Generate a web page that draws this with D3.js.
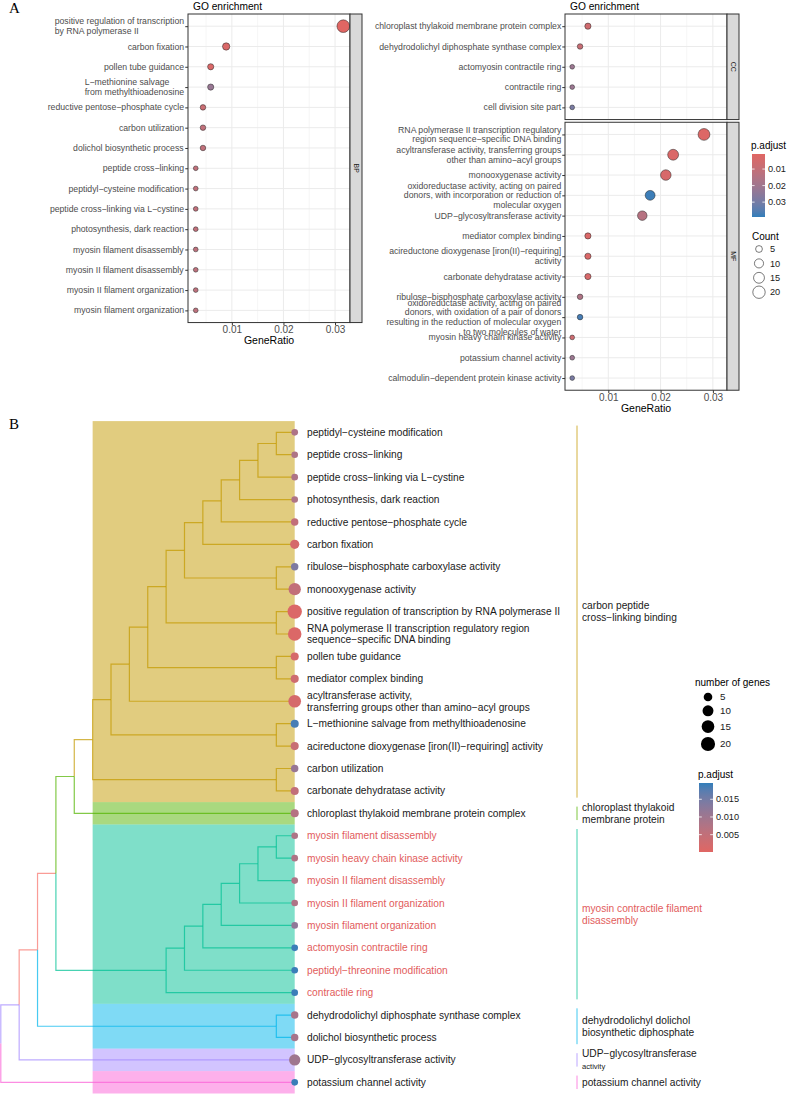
<!DOCTYPE html>
<html>
<head>
<meta charset="utf-8">
<script src="https://cdn.jsdelivr.net/npm/d3@7/dist/d3.min.js"></script>
<style>
  body { margin: 0; background: #fff; }
  svg { display: block; font-family: "Liberation Sans", Arial, sans-serif; }
</style>
</head>
<body>
<svg id="fig"></svg>
<script>
// ---------- panel A : GO enrichment dot plots ----------
const bpTerms = [
  "positive regulation of transcription\nby RNA polymerase II",
  "carbon fixation",
  "pollen tube guidance",
  "L−methionine salvage\nfrom methylthioadenosine",
  "reductive pentose−phosphate cycle",
  "carbon utilization",
  "dolichol biosynthetic process",
  "peptide cross−linking",
  "peptidyl−cysteine modification",
  "peptide cross−linking via L−cystine",
  "photosynthesis, dark reaction",
  "myosin filament disassembly",
  "myosin II filament disassembly",
  "myosin II filament organization",
  "myosin filament organization"
];
const bpRatio = [0.0316, 0.0089, 0.0059, 0.0059, 0.0044, 0.0044, 0.0044, 0.0030, 0.0030, 0.0030, 0.0030, 0.0030, 0.0030, 0.0030, 0.0030];
const bpCount = [21, 6, 4, 4, 3, 3, 3, 2, 2, 2, 2, 2, 2, 2, 2];
const bpPadj = [0.001, 0.003, 0.003, 0.022, 0.008, 0.011, 0.011, 0.011, 0.011, 0.011, 0.011, 0.012, 0.012, 0.012, 0.012];

const ccTerms = [
  "chloroplast thylakoid membrane protein complex",
  "dehydrodolichyl diphosphate synthase complex",
  "actomyosin contractile ring",
  "contractile ring",
  "cell division site part"
];
const ccRatio = [0.0061, 0.0046, 0.0031, 0.0031, 0.0031];
const ccCount = [4, 3, 2, 2, 2];
const ccPadj = [0.006, 0.009, 0.021, 0.021, 0.029];

const mfTerms = [
  "RNA polymerase II transcription regulatory\nregion sequence−specific DNA binding",
  "acyltransferase activity, transferring groups\nother than amino−acyl groups",
  "monooxygenase activity",
  "oxidoreductase activity, acting on paired\ndonors, with incorporation or reduction of\nmolecular oxygen",
  "UDP−glycosyltransferase activity",
  "mediator complex binding",
  "acireductone dioxygenase [iron(II)−requiring]\nactivity",
  "carbonate dehydratase activity",
  "ribulose−bisphosphate carboxylase activity",
  "oxidoreductase activity, acting on paired\ndonors, with oxidation of a pair of donors\nresulting in the reduction of molecular oxygen\nto two molecules of water",
  "myosin heavy chain kinase activity",
  "potassium channel activity",
  "calmodulin−dependent protein kinase activity"
];
const mfRatio = [0.0283, 0.0224, 0.0210, 0.0180, 0.0165, 0.0061, 0.0061, 0.0061, 0.0046, 0.0046, 0.0031, 0.0031, 0.0031];
const mfCount = [18, 15, 14, 12, 11, 4, 4, 4, 3, 3, 2, 2, 2];
const mfPadj = [0.002, 0.003, 0.004, 0.038, 0.014, 0.003, 0.003, 0.004, 0.016, 0.037, 0.007, 0.021, 0.029];

const ratioTicks = [0.01, 0.02, 0.03];
const ratioMinor = [0.005, 0.015, 0.025];
const countBreaks = [5, 10, 15, 20];
const padjTicksA = [0.01, 0.02, 0.03];

// ---------- panel B : tree plot ----------
const leafTerms = [
  "peptidyl−cysteine modification",
  "peptide cross−linking",
  "peptide cross−linking via L−cystine",
  "photosynthesis, dark reaction",
  "reductive pentose−phosphate cycle",
  "carbon fixation",
  "ribulose−bisphosphate carboxylase activity",
  "monooxygenase activity",
  "positive regulation of transcription by RNA polymerase II",
  "RNA polymerase II transcription regulatory region\nsequence−specific DNA binding",
  "pollen tube guidance",
  "mediator complex binding",
  "acyltransferase activity,\ntransferring groups other than amino−acyl groups",
  "L−methionine salvage from methylthioadenosine",
  "acireductone dioxygenase [iron(II)−requiring] activity",
  "carbon utilization",
  "carbonate dehydratase activity",
  "chloroplast thylakoid membrane protein complex",
  "myosin filament disassembly",
  "myosin heavy chain kinase activity",
  "myosin II filament disassembly",
  "myosin II filament organization",
  "myosin filament organization",
  "actomyosin contractile ring",
  "peptidyl−threonine modification",
  "contractile ring",
  "dehydrodolichyl diphosphate synthase complex",
  "dolichol biosynthetic process",
  "UDP−glycosyltransferase activity",
  "potassium channel activity"
];
const leafCount = [2, 2, 2, 2, 3, 6, 3, 14, 21, 18, 4, 4, 15, 4, 4, 3, 4, 4, 2, 2, 2, 2, 2, 2, 2, 2, 3, 3, 11, 2];
const leafPadj = [0.008, 0.008, 0.008, 0.008, 0.005, 0.002, 0.014, 0.005, 0.001, 0.001, 0.002, 0.003, 0.002, 0.0186, 0.004,
                  0.011, 0.005, 0.007, 0.008, 0.008, 0.008, 0.008, 0.012, 0.0192, 0.0192, 0.0192, 0.009, 0.009, 0.010, 0.0192];
const leafCluster = [1, 1, 1, 1, 1, 1, 1, 1, 1, 1, 1, 1, 1, 1, 1, 1, 1, 2, 3, 3, 3, 3, 3, 3, 3, 3, 4, 4, 5, 6];
// topology, leaves are indices into leafTerms, upper child first
const treeShape = [[[[[[[[[[[[[[[[0,1],2],3],4],5],[6,7]],[8,9]],[10,11]],12],[13,14]],[15,16]],17],[[[[[[[18,19],20],21],22],23],24],25]],[26,27]],28],29];
const clusterLabels = [
  "", "carbon peptide\ncross−linking binding", "chloroplast thylakoid\nmembrane protein",
  "myosin contractile filament\ndisassembly", "dehydrodolichyl dolichol\nbiosynthetic diphosphate",
  "UDP−glycosyltransferase\nactivity", "potassium channel activity"
];
const clusterColors = ["#F8766D", "#C49A00", "#53B400", "#00C094", "#00B6EB", "#A58AFF", "#FB61D7"];
const highlightCluster = 3;
const padjTicksB = [0.015, 0.010, 0.005];

// ---------- setup ----------
const W = 787, H = 1094;
const svg = d3.select("#fig").attr("width", W).attr("height", H);
const defs = svg.append("defs");
const lowCol = "#e06663", highCol = "#327eba";
const txtGrey = "#4D4D4D", red = "#E25C5C";

const colA = d3.scaleLinear().domain([0.0009, 0.039]).range([lowCol, highCol]).interpolate(d3.interpolateLab);
const colB = d3.scaleLinear().domain([0.0001, 0.0196]).range([lowCol, highCol]).interpolate(d3.interpolateLab);
const sizeA = d3.scaleSqrt().domain([0, 21]).range([0, 5.73]);
const sizeB = d3.scaleSqrt().domain([0, 21]).range([0, 5.59]);
const rA = c => 0.6 + sizeA(c);
const rB = c => 1.6 + sizeB(c);

function multiline(g, str, x, y, size, lh, anchor, color) {
  const lines = str.split("\n");
  const t = g.append("text").attr("font-size", size).attr("fill", color).attr("text-anchor", anchor);
  lines.forEach((s, i) => t.append("tspan")
    .attr("x", x).attr("y", y + (i - (lines.length - 1) / 2) * lh).attr("dy", "0.35em").text(s));
  return t;
}

function dotPanel(o) {
  const g = svg.append("g");
  const n = o.terms.length, idx = d3.range(n);
  const y = d3.scalePoint().domain(idx).range([o.y0, o.y1]).padding(0.6);
  const [x0, x1] = o.x.range();

  g.append("rect").attr("x", x0).attr("y", o.y0).attr("width", x1 - x0).attr("height", o.y1 - o.y0).attr("fill", "#fff");
  g.selectAll(null).data(ratioMinor).join("line")
    .attr("x1", d => o.x(d)).attr("x2", d => o.x(d)).attr("y1", o.y0).attr("y2", o.y1)
    .attr("stroke", "#F0F0F0").attr("stroke-width", 0.6);
  g.selectAll(null).data(ratioTicks).join("line")
    .attr("x1", d => o.x(d)).attr("x2", d => o.x(d)).attr("y1", o.y0).attr("y2", o.y1)
    .attr("stroke", "#EBEBEB").attr("stroke-width", 1);
  g.selectAll(null).data(idx).join("line")
    .attr("x1", x0).attr("x2", x1).attr("y1", i => y(i)).attr("y2", i => y(i))
    .attr("stroke", "#EBEBEB").attr("stroke-width", 1);

  g.selectAll(null).data(idx).join("circle")
    .attr("cx", i => o.x(o.ratio[i])).attr("cy", i => y(i))
    .attr("r", i => rA(o.count[i]))
    .attr("fill", i => colA(o.padj[i]))
    .attr("stroke", "#222").attr("stroke-width", 0.5);

  g.append("rect").attr("x", x0).attr("y", o.y0).attr("width", x1 - x0).attr("height", o.y1 - o.y0)
    .attr("fill", "none").attr("stroke", "#333").attr("stroke-width", 1);
  g.append("rect").attr("x", x1).attr("y", o.y0).attr("width", 12).attr("height", o.y1 - o.y0)
    .attr("fill", "#D9D9D9").attr("stroke", "#333").attr("stroke-width", 1);
  g.append("text")
    .attr("transform", `translate(${x1 + 6},${(o.y0 + o.y1) / 2}) rotate(90)`)
    .attr("text-anchor", "middle").attr("dy", "0.35em")
    .attr("font-size", 7).attr("fill", "#1A1A1A").text(o.strip);

  const ya = g.append("g").attr("transform", `translate(${x0},0)`)
    .call(d3.axisLeft(y).tickSize(2.75).tickFormat(""));
  ya.select(".domain").remove();
  ya.selectAll("line").attr("stroke", "#333");

  idx.forEach(i => {
    if (o.blockLeft) {
      const t = multiline(g, o.terms[i], 0, y(i), 8.7, 10.4, "start", txtGrey);
      const w = t.node().getBBox().width;
      t.selectAll("tspan").attr("x", x0 - 3.7 - w);
    } else {
      multiline(g, o.terms[i], x0 - 3.7, y(i), 8.7, 9.6, "end", txtGrey);
    }
  });

  if (o.title) {
    g.append("text").attr("x", x0 + 5).attr("y", o.y0 - 4.5).attr("font-size", 10.2).attr("fill", "#000").text(o.title);
  }
  if (o.xAxis) {
    const xa = g.append("g").attr("transform", `translate(0,${o.y1})`)
      .call(d3.axisBottom(o.x).tickValues(ratioTicks).tickSize(2.75).tickPadding(1).tickFormat(d3.format(".2f")));
    xa.attr("font-family", null);
    xa.select(".domain").remove();
    xa.selectAll("line").attr("stroke", "#333");
    xa.selectAll("text").attr("font-size", 10).attr("fill", txtGrey);
    g.append("text").attr("x", (x0 + x1) / 2).attr("y", o.y1 + 21.5).attr("text-anchor", "middle")
      .attr("font-size", 10.5).attr("fill", "#000").text("GeneRatio");
  }
}

function colorbar(id, scale, dom, x, yTop, yBot, w, ticks, fmt, title) {
  const yc = d3.scaleLinear().domain(dom).range([yTop, yBot]);
  const grad = defs.append("linearGradient").attr("id", id).attr("x1", 0).attr("y1", 0).attr("x2", 0).attr("y2", 1);
  d3.range(0, 1.001, 0.1).forEach(t => grad.append("stop").attr("offset", t)
    .attr("stop-color", scale(yc.invert(yTop + t * (yBot - yTop)))));
  const g = svg.append("g");
  g.append("text").attr("x", x - 1).attr("y", yTop - 5).attr("font-size", 10).attr("fill", "#000").text(title);
  g.append("rect").attr("x", x).attr("y", yTop).attr("width", w).attr("height", yBot - yTop).attr("fill", `url(#${id})`);
  g.selectAll(null).data(ticks).join("path")
    .attr("d", v => `M${x},${yc(v)}h${w / 5}M${x + w},${yc(v)}h${-w / 5}`)
    .attr("stroke", "#fff").attr("stroke-width", 0.8);
  g.selectAll(null).data(ticks).join("text")
    .attr("x", x + w + 3).attr("y", v => yc(v)).attr("dy", "0.35em")
    .attr("font-size", 9.2).attr("fill", "#1A1A1A").text(v => d3.format(fmt)(v));
}

// ---------- draw panel A ----------
svg.append("text").attr("x", 9).attr("y", 13).attr("font-family", "Liberation Serif, serif")
  .attr("font-size", 15).text("A");

const xLeft = d3.scaleLinear().domain([0.0015, 0.0329]).range([188, 350]);
const xRight = d3.scaleLinear().domain([0.00172, 0.0327]).range([565, 727]);
const rowStep = 20.3;

dotPanel({ terms: bpTerms, ratio: bpRatio, count: bpCount, padj: bpPadj, x: xLeft,
  y0: 14, y1: 14 + (bpTerms.length + 0.2) * rowStep, strip: "BP", blockLeft: true,
  title: "GO enrichment", xAxis: true });

const ccBottom = 14 + (ccTerms.length + 0.2) * rowStep;
dotPanel({ terms: ccTerms, ratio: ccRatio, count: ccCount, padj: ccPadj, x: xRight,
  y0: 14, y1: ccBottom, strip: "CC", title: "GO enrichment" });
dotPanel({ terms: mfTerms, ratio: mfRatio, count: mfCount, padj: mfPadj, x: xRight,
  y0: ccBottom + 2.7, y1: ccBottom + 2.7 + (mfTerms.length + 0.2) * rowStep, strip: "MF", xAxis: true });

colorbar("gradA", colA, [0.0009, 0.039], 752, 154, 217, 13, padjTicksA, ".2f", "p.adjust");

const cntG = svg.append("g");
cntG.append("text").attr("x", 752).attr("y", 239.5).attr("font-size", 10).attr("fill", "#000").text("Count");
countBreaks.forEach((c, i) => {
  const cy = 249 + i * 14.4;
  cntG.append("circle").attr("cx", 759).attr("cy", cy).attr("r", rA(c))
    .attr("fill", "#fff").attr("stroke", "#222").attr("stroke-width", 0.6);
  cntG.append("text").attr("x", 770).attr("y", cy).attr("dy", "0.35em").attr("font-size", 9.2)
    .attr("fill", "#1A1A1A").text(c);
});

// ---------- draw panel B ----------
svg.append("text").attr("x", 9).attr("y", 429).attr("font-family", "Liberation Serif, serif")
  .attr("font-size", 15).text("B");

const root = d3.hierarchy(treeShape, d => Array.isArray(d) ? d : null);
const nLeaf = leafTerms.length;
const yB = d3.scaleLinear().domain([0, nLeaf - 1]).range([432.3, 1082.3]);
const xB = d3.scaleLinear().domain([0, root.height]).range([294.7, 0.8]);
const stepB = yB(1) - yB(0);

root.eachAfter(nd => {
  nd.py = nd.children ? d3.mean(nd.children, c => c.py) : yB(nd.data);
  nd.px = xB(nd.height);
  if (!nd.children) { nd.grp = leafCluster[nd.data]; return; }
  const gs = new Set(nd.leaves().map(l => leafCluster[l.data]));
  nd.pure = gs.size === 1;
  if (nd.pure) nd.grp = [...gs][0];
  else {
    const lf = nd.children.find(c => !c.children);
    nd.grp = lf ? lf.grp : 0;
  }
});
const bandLeft = xB(d3.max(root.descendants().filter(d => d.children && d.pure), d => d.height));

const gB = svg.append("g");
const clusters = d3.range(1, clusterLabels.length).map(k => {
  const ids = d3.range(nLeaf).filter(i => leafCluster[i] === k);
  return { k, first: d3.min(ids), last: d3.max(ids) };
});

gB.selectAll(null).data(clusters).join("rect")
  .attr("x", bandLeft).attr("width", xB(0) - bandLeft)
  .attr("y", d => yB(d.first) - stepB / 2)
  .attr("height", d => yB(d.last) - yB(d.first) + stepB)
  .attr("fill", d => clusterColors[d.k]).attr("fill-opacity", 0.5);

gB.selectAll(null).data(root.descendants().slice(1)).join("path")
  .attr("d", d => `M${d.parent.px},${d.parent.py}V${d.py}H${d.px}`)
  .attr("fill", "none").attr("stroke", d => clusterColors[d.grp])
  .attr("stroke-opacity", 0.72).attr("stroke-width", 1.2);

gB.selectAll(null).data(root.leaves()).join("circle")
  .attr("cx", d => d.px).attr("cy", d => d.py)
  .attr("r", d => rB(leafCount[d.data]))
  .attr("fill", d => colB(leafPadj[d.data]));

root.leaves().forEach(d => {
  const c = leafCluster[d.data] === highlightCluster ? red : "#1A1A1A";
  multiline(gB, leafTerms[d.data], xB(0) + 12.3, d.py, 10.2, 11.5, "start", c);
});

// cluster bars and names
gB.selectAll(null).data(clusters).join("line")
  .attr("x1", 577).attr("x2", 577)
  .attr("y1", d => yB(d.first) - 0.3 * stepB).attr("y2", d => yB(d.last) + 0.3 * stepB)
  .attr("stroke", d => clusterColors[d.k]).attr("stroke-opacity", 0.75).attr("stroke-width", 1);
clusters.forEach(d => {
  const c = d.k === highlightCluster ? red : "#1A1A1A";
  const t = multiline(gB, clusterLabels[d.k], 582, (yB(d.first) + yB(d.last)) / 2, 10.2, 12.5, "start", c);
  if (d.k === 5) t.select("tspan:nth-child(2)").attr("font-size", 7.6);
});

// legends
const lg = svg.append("g");
lg.append("text").attr("x", 695).attr("y", 686).attr("font-size", 10).attr("fill", "#000").text("number of genes");
let ky = 697;
countBreaks.forEach((c, i) => {
  if (i) ky += rB(countBreaks[i - 1]) + rB(c) + 4;
  lg.append("circle").attr("cx", 708).attr("cy", ky).attr("r", rB(c)).attr("fill", "#000");
  lg.append("text").attr("x", 720).attr("y", ky).attr("dy", "0.35em").attr("font-size", 9.8).attr("fill", "#1A1A1A").text(c);
});

colorbar("gradB", colB, [0.0196, 0.0001], 699, 783, 852, 14, padjTicksB, ".3f", "p.adjust");
</script>
</body>
</html>
